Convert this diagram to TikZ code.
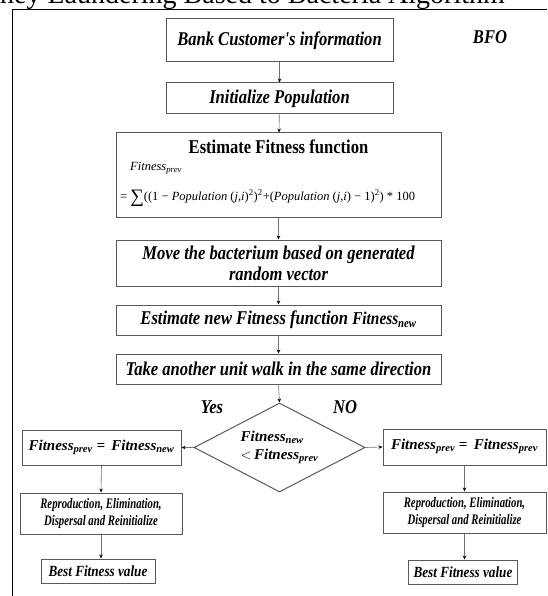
\documentclass[tikz,border=0pt]{standalone}
\usepackage{fontspec}
\setmainfont{Liberation Serif}
\newfontfamily\cond[FakeStretch=0.85]{Liberation Serif}
\newfontfamily\condx[FakeStretch=0.74]{Liberation Serif}
\usetikzlibrary{shapes.geometric,arrows.meta}
\newcommand{\fitI}[1]{\textit{Fitness}\textsubscript{\textit{#1}}}
\newcommand{\fitB}[1]{\textbf{\textit{Fitness}}\textsubscript{\textbf{\textit{#1}}}}
\tikzset{
  box/.style={draw=black!65, line width=1pt, align=center, inner sep=1pt},
  arr/.style={draw=black!55, line width=0.6pt, -{Stealth[length=4pt,width=3.5pt,black]}},
  bi/.style={font={\cond\bfseries\itshape\fontsize{19.5}{21}\selectfont}},
  bis/.style={font={\condx\bfseries\itshape\fontsize{14.5}{17}\selectfont}},
  bbest/.style={font={\cond\bfseries\itshape\fontsize{15.5}{18}\selectfont}},
  mb/.style={font={\bfseries\itshape\fontsize{15}{18}\selectfont}},
}
\begin{document}
\begin{tikzpicture}[x=1pt,y=-1pt]
\useasboundingbox (0,0) rectangle (547,596);
\clip (0,0) rectangle (547,596);
% title (clipped at the top edge)
\node[anchor=base west, inner sep=0pt, font=\fontsize{28}{30}\selectfont] (title) at (0,4) {ney Laundering Based to Bacteria Algorithm};
% frame
\draw[line width=1pt] (12.5,596) -- (12.5,9.5) -- (547,9.5);
% BFO
\node[bi] (bfo) at (490,37) {BFO};
% main column
\node[box, bi, minimum width=227pt, minimum height=43pt] (b1) at (279.5,40.5) {Bank Customer's information};
\node[box, bi, minimum width=227pt, minimum height=31pt] (b2) at (279.5,98.5) {Initialize Population};
\node[box, minimum width=325pt, minimum height=84pt] (b3) at (278.5,175) {};
\node[font={\cond\bfseries\fontsize{19.5}{21}\selectfont}] (b3t) at (278.5,147) {Estimate Fitness function};
\node[anchor=west, inner sep=0pt, font=\fontsize{12.5}{14}\selectfont] (b3a) at (130,168) {\fitI{prev}};
\node[anchor=west, inner sep=0pt, font=\fontsize{12.5}{15}\selectfont] (b3b) at (120,198) {= \raisebox{-2pt}{\fontsize{19}{19}\selectfont ∑}((1 − \textit{Population} (\textit{j,i})\textsuperscript{2})\textsuperscript{2}+(\textit{Population} (\textit{j,i}) − 1)\textsuperscript{2}) * 100};
\node[box, bi, minimum width=325pt, minimum height=46pt] (b4) at (278.5,263) {Move the bacterium based on generated\\random vector};
\node[box, bi, minimum width=325pt, minimum height=30pt] (b5) at (278.5,320) {Estimate new Fitness function {\fontsize{18}{20}\selectfont\fitB{new}}};
\node[box, bi, minimum width=325pt, minimum height=30pt] (b6) at (278.5,369) {Take another unit walk in the same direction};
% decision
\node[draw=black!65, line width=1pt, diamond, shape aspect=1.9, minimum width=171pt, minimum height=89pt, inner sep=0pt, align=left, mb] (dec) at (279.5,447.5) {\fitB{new}\\$<$\,\fitB{prev}};
\node[bi] (yes) at (212,407) {Yes};
\node[bi] (no) at (345,407) {NO};
% left branch
\node[box, mb, minimum width=159pt, minimum height=35pt] (lf) at (101.5,447.5) {\fitB{prev} = \,\fitB{new}};
\node[box, bis, minimum width=162pt, minimum height=41pt] (lr) at (101,513.5) {Reproduction, Elimination,\\Dispersal and Reinitialize};
\node[box, bbest, minimum width=114pt, minimum height=24pt] (lb) at (98,571) {Best Fitness value};
% right branch
\node[box, mb, minimum width=163pt, minimum height=36pt] (rf) at (464.5,447) {\raisebox{6pt}{\fitB{prev} = \,\fitB{prev}}};
\node[box, bis, minimum width=163pt, minimum height=41pt] (rr) at (464.5,512.5) {Reproduction, Elimination,\\Dispersal and Reinitialize};
\node[box, bbest, minimum width=109pt, minimum height=24pt] (rb) at (463,572) {Best Fitness value};
% connectors
\draw[arr] (b1) -- (b2);
\draw[arr] (b2) -- (b3);
\draw[arr] (b3) -- (b4);
\draw[arr] (b4) -- (b5);
\draw[arr] (b5) -- (b6);
\draw[arr] (b6.south) -- (dec.north);
\draw[arr] (dec.west) -- (lf.east);
\draw[arr] (dec.east) -- (rf.west);
\draw[arr] (lf.south) -- (lr.north);
\draw[arr] (lr.south) -- (lr.south |- lb.north);
\draw[arr] (rf.south) -- (rr.north);
\draw[arr] (rr.south) -- (rr.south |- rb.north);
\end{tikzpicture}
\end{document}
